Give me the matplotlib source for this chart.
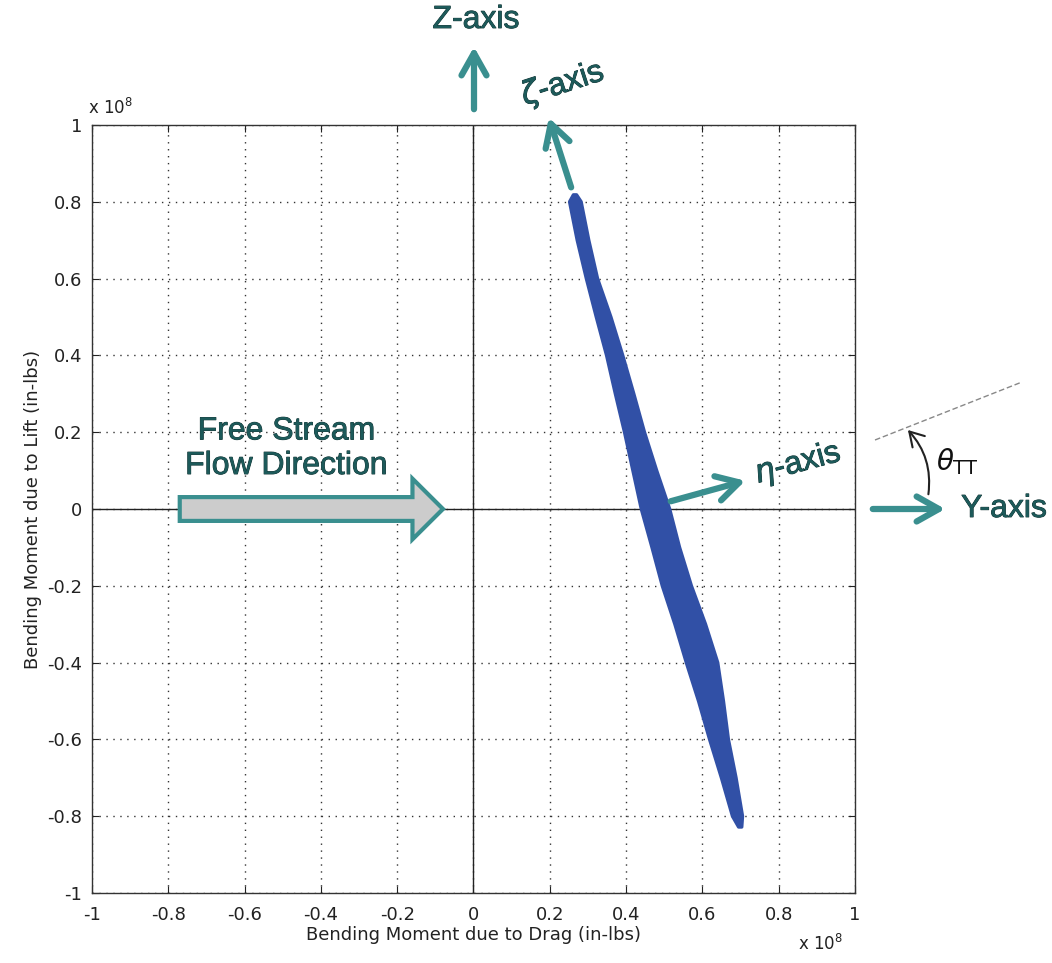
import numpy as np
import matplotlib.pyplot as plt
import matplotlib.patheffects as pe
from matplotlib.patches import FancyArrow, FancyArrowPatch, Polygon

plt.rcParams['font.family'] = ['Liberation Sans', 'DejaVu Sans']

# outline of the bending moment cloud (x 1e8 in-lbs)
band_y = [0.818, 0.80, 0.70, 0.60, 0.50, 0.40, 0.30, 0.20, 0.10, 0.00,
          -0.10, -0.20, -0.30, -0.40, -0.50, -0.60, -0.70, -0.80, -0.828]
band_left = [0.262, 0.252, 0.272, 0.296, 0.322, 0.349, 0.372, 0.396, 0.418, 0.440,
             0.468, 0.495, 0.528, 0.558, 0.590, 0.619, 0.650, 0.679, 0.695]
band_right = [0.270, 0.282, 0.302, 0.325, 0.360, 0.391, 0.420, 0.448, 0.480, 0.514,
              0.540, 0.571, 0.608, 0.640, 0.655, 0.668, 0.688, 0.705, 0.703]

ticks = np.round(np.arange(-1, 1.01, 0.2), 1)
tick_labels = ['-1', '-0.8', '-0.6', '-0.4', '-0.2', '0', '0.2', '0.4', '0.6', '0.8', '1']

W, H = 1052, 963
fig = plt.figure(figsize=(W / 100, H / 100), dpi=100)
ax = fig.add_axes([92 / W, 1 - 893 / H, (855 - 92) / W, (893 - 125) / H])


def fp(x, y):
    # pixel position (from top-left) -> figure fraction
    return (x / W, 1 - y / H)


axfont = dict(family='DejaVu Sans', color='#222222')

ax.set_xlim(-1, 1)
ax.set_ylim(-1, 1)
ax.set_xticks(ticks)
ax.set_yticks(ticks)
ax.set_xticklabels(tick_labels, **axfont, fontsize=13)
ax.set_yticklabels(tick_labels, **axfont, fontsize=13)
ax.tick_params(direction='in', length=5, colors='#222222', top=True, right=True)
ax.tick_params(axis='x', pad=9)
ax.tick_params(axis='y', pad=7)
ax.grid(True, linestyle=(0, (1, 4)), color='#333333', linewidth=1.0)
for s in ax.spines.values():
    s.set_color('#333333')
    s.set_linewidth(1.0)
ax.axhline(0, color='#222222', lw=1.0)
ax.axvline(0, color='#222222', lw=1.0)

ax.set_xlabel('Bending Moment due to Drag (in-lbs)', fontsize=13, labelpad=2, **axfont)
ax.set_ylabel('Bending Moment due to Lift (in-lbs)', fontsize=13, labelpad=4, **axfont)

fig.text(*fp(88, 114), r'x 10$^{8}$', fontsize=12, va='baseline', **axfont)
fig.text(*fp(798, 950), r'x 10$^{8}$', fontsize=12, va='baseline', **axfont)

# data cloud
outline = list(zip(band_left, band_y)) + list(zip(band_right[::-1], band_y[::-1]))
ax.add_patch(Polygon(outline, closed=True, facecolor='#3150a6', edgecolor='#3150a6',
                     lw=2.5, joinstyle='round', zorder=3))

teal = '#3a8f8f'
txt = '#1d5a5a'
outline_fx = [pe.withStroke(linewidth=0.6, foreground='#0b2b2b')]

# free stream arrow
ax.add_patch(FancyArrow(-0.77, 0, 0.69, 0, width=0.062, head_width=0.158,
                        head_length=0.08, length_includes_head=True,
                        facecolor='#cccccc', edgecolor=teal, lw=3, zorder=4))
ax.text(-0.49, 0.157, 'Free Stream\nFlow Direction', fontsize=23, color=txt,
        ha='center', va='center', linespacing=1.2, zorder=5, path_effects=outline_fx)


def arrow(p0, p1, color=teal, lw=4.5, style='->,head_length=0.8,head_width=0.45', **kw):
    a = FancyArrowPatch(fp(*p0), fp(*p1), transform=fig.transFigure,
                        arrowstyle=style, mutation_scale=20, color=color, lw=lw,
                        clip_on=False, **kw)
    fig.patches.append(a)


def label(x, y, s, rot=0):
    fig.text(*fp(x, y), s, fontsize=23, color=txt, ha='center', va='center',
             rotation=rot, path_effects=outline_fx)


# body axes
arrow((474, 112), (474, 44))
label(476, 20, 'Z-axis')

arrow((572, 190), (548, 115))
label(563, 84, r'$\zeta$-axis', rot=18)

arrow((668, 502), (748, 480))
label(798, 464, r'$\eta$-axis', rot=15)

arrow((870, 509), (948, 509))
label(1004, 509, 'Y-axis')

# rotated axis reference line and angle
fig.add_artist(plt.Line2D([875 / W, 1022 / W], [1 - 440 / H, 1 - 382 / H],
                          color='#888888', lw=1, linestyle=(0, (4, 2))))
arrow((928, 497), (906, 428), color='#222222', lw=1.5,
      style='->,head_length=0.5,head_width=0.3', connectionstyle='arc3,rad=0.25')
fig.text(*fp(957, 462), r'$\theta_{\mathrm{TT}}$', fontsize=20, color='#111111',
         ha='center', va='center')

fig.savefig('out.png', dpi=100)
